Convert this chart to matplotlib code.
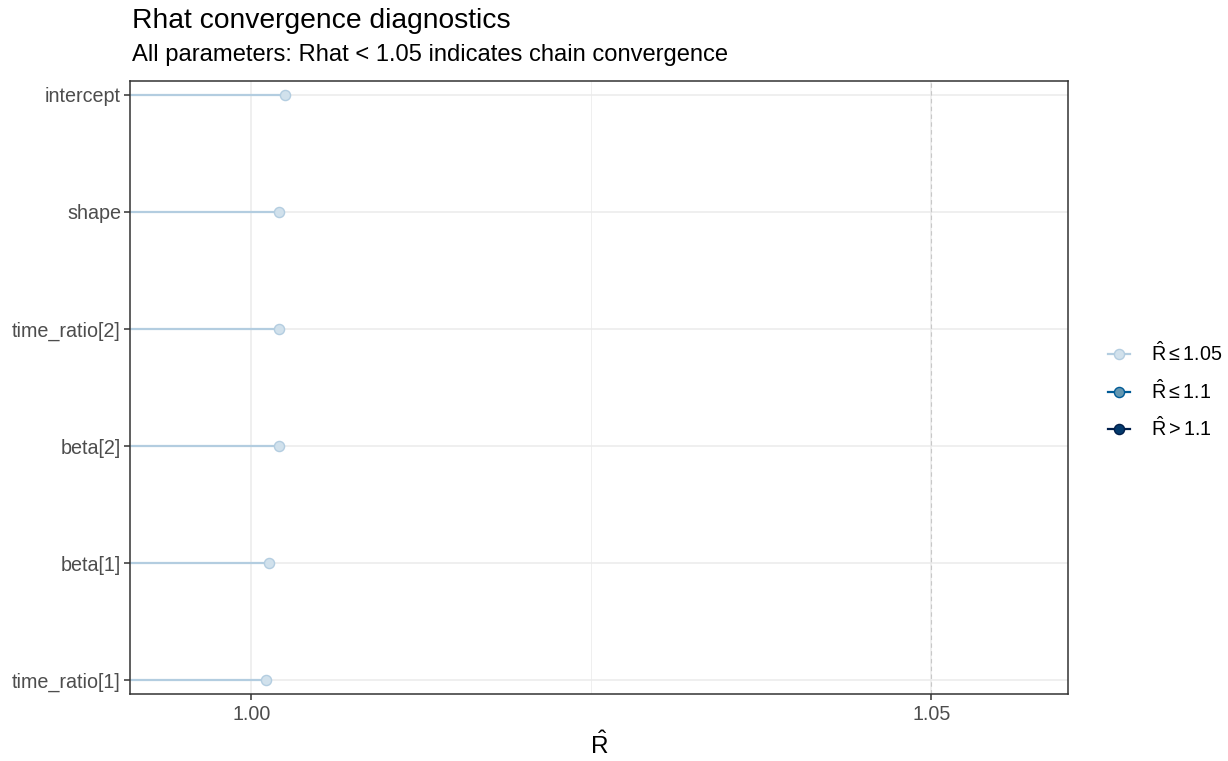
import matplotlib
matplotlib.use('Agg')
import matplotlib.pyplot as plt
from matplotlib.lines import Line2D

plt.rcParams['font.family'] = ['Liberation Sans', 'DejaVu Sans']
plt.rcParams['mathtext.fontset'] = 'custom'
plt.rcParams['mathtext.rm'] = 'Liberation Sans'
plt.rcParams['mathtext.it'] = 'Liberation Sans'
plt.rcParams['mathtext.sf'] = 'Liberation Sans'

# ---- data ----
params = ["intercept", "shape", "time_ratio[2]", "beta[2]", "beta[1]", "time_ratio[1]"]
rhat = [1.0025, 1.0020, 1.0020, 1.0020, 1.0013, 1.0011]
x_ticks = [1.00, 1.05]
x_tick_labels = ["1.00", "1.05"]
minor_ticks = [1.025]
thresholds = [1.05, 1.1]
legend_labels = [r"$\hat{\mathrm{R}} \leq 1.05$", r"$\hat{\mathrm{R}} \leq 1.1$", r"$\hat{\mathrm{R}} > 1.1$"]

line_cols = ["#b3cde0", "#005b96", "#011f4b"]
fill_cols = ["#d1e1ec", "#6497b1", "#03396c"]

W, H = 1228, 761
fig = plt.figure(figsize=(W / 100, H / 100), dpi=100)
L, R, T, B = 130, 1068, 81, 694
ax = fig.add_axes([L / W, (H - B) / H, (R - L) / W, (B - T) / H])

xlo, xhi = 0.99107, 1.06004
ax.set_xlim(xlo, xhi)
n = len(params)
ax.set_ylim(-0.117, n - 1 + 0.117)

ys = list(range(n - 1, -1, -1))

# grid
for y in ys:
    ax.axhline(y, color="#ebebeb", lw=1.1, zorder=0)
for xv in x_ticks:
    ax.axvline(xv, color="#ebebeb", lw=1.1, zorder=0)
for xv in minor_ticks:
    ax.axvline(xv, color="#ebebeb", lw=0.55, zorder=0)
for xv in thresholds:
    ax.axvline(xv, color="#c8c8c8", lw=0.8, ls=(0, (4, 3)), zorder=0.5)

def cat(v):
    if v <= thresholds[0]:
        return 0
    if v <= thresholds[1]:
        return 1
    return 2

for y, v in zip(ys, rhat):
    c = cat(v)
    ax.plot([xlo, v], [y, y], color=line_cols[c], lw=1.6, solid_capstyle='butt', zorder=2)
    ax.plot([v], [y], marker='o', ms=7.3, mfc=fill_cols[c], mec=line_cols[c], mew=1.0, zorder=3, ls='none')

ax.set_yticks(ys)
ax.set_yticklabels(params)
ax.set_xticks(x_ticks)
ax.set_xticklabels(x_tick_labels)
ax.tick_params(axis='both', colors="#333333", labelcolor="#4d4d4d", labelsize=14.2, length=4, width=1.1, pad=2.5)
ax.tick_params(axis='x', pad=4)
for s in ax.spines.values():
    s.set_color("#333333")
    s.set_linewidth(1.1)

ax.set_xlabel(r"$\hat{\mathrm{R}}$", fontsize=17.5, color="black", labelpad=5)

fig.text(132 / W, 1 - 28 / H, "Rhat convergence diagnostics", fontsize=20.3, va='baseline', ha='left')
fig.text(132 / W, 1 - 61 / H, "All parameters: Rhat < 1.05 indicates chain convergence", fontsize=17.1, va='baseline', ha='left')

handles = [Line2D([0], [0], color=line_cols[i], lw=1.6, marker='o', ms=7.3, mfc=fill_cols[i], mec=line_cols[i], mew=1.0)
           for i in range(3)]
fig.legend(handles, legend_labels, loc='center left', bbox_to_anchor=(1108 / W, 1 - 391 / H),
           frameon=False, fontsize=14.2, handlelength=1.1, handletextpad=1.1, labelspacing=0.72,
           borderaxespad=0, borderpad=0)

fig.savefig("out.png", dpi=100)
